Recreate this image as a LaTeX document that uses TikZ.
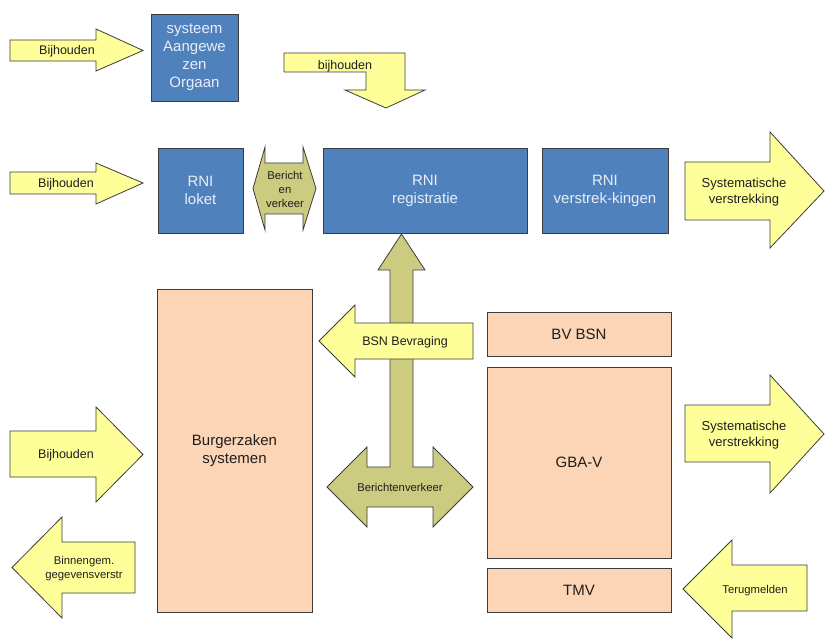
\documentclass[tikz,border=0pt]{standalone}
\usepackage{fontspec}
\setmainfont{Liberation Sans}
\usepackage{tikz}
\definecolor{boxBlue}{RGB}{79,129,189}
\definecolor{boxPeach}{RGB}{251,213,181}
\definecolor{arrowYellow}{RGB}{255,255,153}
\definecolor{arrowOlive}{RGB}{204,204,128}
\definecolor{edgeGrey}{RGB}{60,60,60}
\definecolor{lightText}{RGB}{232,238,248}
\definecolor{darkText}{RGB}{30,30,30}

\begin{document}
\begin{tikzpicture}[x=1pt,y=-1pt]

            \tikzstyle{blueBox} = [shape = rectangle, draw=edgeGrey, line width=0.8pt, fill=boxBlue, text=lightText, align=center, inner sep=0pt, font=\fontsize{15}{18}\selectfont];
            \tikzstyle{peachBox} = [shape = rectangle, draw=edgeGrey, line width=0.8pt, fill=boxPeach, text=darkText, align=center, inner sep=0pt, font=\fontsize{15}{18}\selectfont];
            \tikzstyle{yellowArrow} = [draw=edgeGrey, line width=0.8pt, fill=arrowYellow, line join=miter];
            \tikzstyle{oliveArrow} = [draw=edgeGrey, line width=0.8pt, fill=arrowOlive, line join=miter];
            \tikzstyle{arrowText} = [text=darkText, align=center, inner sep=0pt, font=\fontsize{12.5}{16.5}\selectfont];
            \tikzstyle{smallText} = [text=darkText, align=center, inner sep=0pt, font=\fontsize{11.3}{14}\selectfont];

            \useasboundingbox (0,0) rectangle (825,639);

            % top row
            \draw[yellowArrow] (10,40) -- (96,40) -- (96,29) -- (143,50.5) -- (96,71) -- (96,61) -- (10,61) -- cycle;
            \node[arrowText] (bijhoudenA) at (67,51) {Bijhouden};

            \node[blueBox, minimum width=87pt, minimum height=87pt] (orgaan) at (194.5,57.5) {systeem\\Aangewe\\zen\\Orgaan};

            \draw[yellowArrow] (284,53) -- (405,53) -- (405,90) -- (425,90) -- (386,108) -- (345,90) -- (366,90) -- (366,72) -- (284,72) -- cycle;
            \node[arrowText] (bijhoudenB) at (345,66) {bijhouden};

            % RNI row
            \draw[yellowArrow] (10,172) -- (96,172) -- (96,163) -- (143,183) -- (96,204) -- (96,194) -- (10,194) -- cycle;
            \node[arrowText] (bijhoudenC) at (66,184) {Bijhouden};

            \node[blueBox, minimum width=85pt, minimum height=85pt] (loket) at (200.5,190.5) {RNI\\loket};

            \draw[oliveArrow] (253,188.5) -- (265,147) -- (265,163) -- (303,163) -- (303,147) -- (316,188.5) -- (303,230) -- (303,214) -- (265,214) -- (265,230) -- cycle;
            \node[smallText] (berichtKort) at (285,189) {Bericht\\en\\verkeer};

            \node[blueBox, minimum width=204pt, minimum height=85pt] (registratie) at (425,190.5) {RNI\\registratie};
            \node[blueBox, minimum width=126pt, minimum height=85pt] (verstrek) at (605,190.5) {RNI\\verstrek-kingen};

            \draw[yellowArrow] (685,162) -- (770,162) -- (770,132) -- (824,191) -- (770,248) -- (770,220) -- (685,220) -- cycle;
            \node[arrowText, font=\fontsize{13}{16.5}\selectfont] (systA) at (744,192) {Systematische\\verstrekking};

            % lower part
            \node[peachBox, minimum width=155pt, minimum height=323pt] (burger) at (234.5,450.5) {Burgerzaken\\systemen};

            \draw[oliveArrow] (401.5,234) -- (425,270) -- (413,270) -- (413,467) -- (433,467) -- (433,447) -- (473,487) -- (433,527) -- (433,507) -- (367,507) -- (367,527) -- (327,487) -- (367,447) -- (367,467) -- (390,467) -- (390,270) -- (378,270) -- cycle;
            \node[smallText] (berichtLang) at (400,487) {Berichtenverkeer};

            \draw[yellowArrow] (319,341) -- (355,305) -- (355,323) -- (473,323) -- (473,359) -- (355,359) -- (355,377) -- cycle;
            \node[arrowText] (bsnVraag) at (405,342) {BSN Bevraging};

            \node[peachBox, minimum width=184pt, minimum height=44pt] (bvbsn) at (579,334) {BV BSN};
            \node[peachBox, minimum width=184pt, minimum height=191pt] (gbav) at (579,462.5) {GBA-V};
            \node[peachBox, minimum width=184pt, minimum height=44pt] (tmv) at (579,590) {TMV};

            \draw[yellowArrow] (685,405) -- (770,405) -- (770,375) -- (824,434) -- (770,493) -- (770,462) -- (685,462) -- cycle;
            \node[arrowText, font=\fontsize{13}{16.5}\selectfont] (systB) at (744,435) {Systematische\\verstrekking};

            \draw[yellowArrow] (10,431) -- (96,431) -- (96,407) -- (143,454.5) -- (96,502) -- (96,477) -- (10,477) -- cycle;
            \node[arrowText] (bijhoudenD) at (66,455) {Bijhouden};

            \draw[yellowArrow] (12,567.5) -- (62,517) -- (62,542) -- (135,542) -- (135,593) -- (62,593) -- (62,618) -- cycle;
            \node[smallText] (binnengem) at (84,569) {Binnengem.\\gegevensverstr};

            \draw[yellowArrow] (683,589) -- (732,540) -- (732,565) -- (807,565) -- (807,611) -- (732,611) -- (732,638) -- cycle;
            \node[smallText] (terugmelden) at (755,591) {Terugmelden};

\end{tikzpicture}
\end{document}
